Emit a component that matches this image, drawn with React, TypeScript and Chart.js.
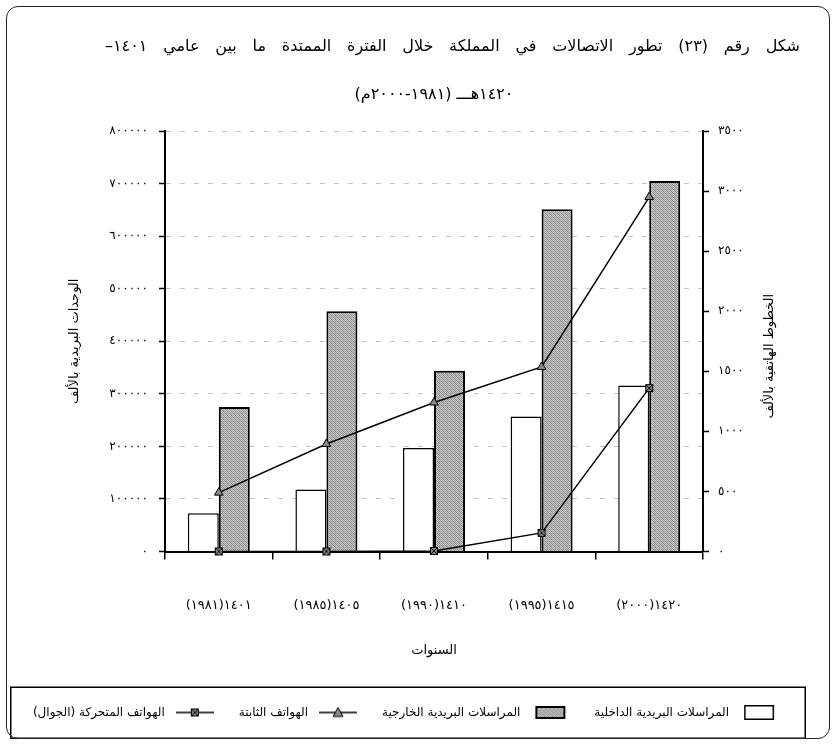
import React, { useEffect, useRef } from 'react';
import { Chart, registerables } from 'chart.js';

Chart.register(...registerables);

// ---------- data ----------
const categories = ['١٤٠١(١٩٨١)', '١٤٠٥(١٩٨٥)', '١٤١٠(١٩٩٠)', '١٤١٥(١٩٩٥)', '١٤٢٠(٢٠٠٠)'];
const domesticMail = [73000, 118000, 197000, 257000, 316000];
const foreignMail = [275000, 457000, 344000, 651000, 705000];
const fixedLines = [490, 895, 1240, 1536, 2950];
const mobilePhones = [0, 0, 5, 155, 1360];

const seriesNames = [
  'المراسلات البريدية الداخلية',
  'المراسلات البريدية الخارجية',
  'الهواتف الثابتة',
  'الهواتف المتحركة (الجوال)',
];
const titleLines = [
  'شكل رقم (٢٣) تطور الاتصالات في المملكة خلال الفترة الممتدة ما بين عامي ١٤٠١–',
  '١٤٢٠هـــ (١٩٨١-٢٠٠٠م)',
];
const leftAxisTitle = 'الوحدات البريدية بالألف';
const rightAxisTitle = 'الخطوط الهاتفية بالألف';
const xAxisTitle = 'السنوات';

const leftMax = 800000;
const leftStep = 100000;
const rightMax = 3500;
const rightStep = 500;

const FONT = '"DejaVu Sans", sans-serif';
const arabicDigits = '٠١٢٣٤٥٦٧٨٩';
const toArabic = (v: number | string) => String(v).replace(/\d/g, (d) => arabicDigits[Number(d)]);

// ---------- style helpers ----------
function makePatternTile(): HTMLCanvasElement {
  const c = document.createElement('canvas');
  c.width = 4;
  c.height = 4;
  const g = c.getContext('2d')!;
  const shades = [
    '#8c8c8c', '#d2d2d2', '#a0a0a0', '#c6c6c6',
    '#cacaca', '#7a7a7a', '#bcbcbc', '#989898',
    '#a6a6a6', '#d6d6d6', '#868686', '#c0c0c0',
    '#c4c4c4', '#929292', '#d0d0d0', '#7e7e7e',
  ];
  for (let i = 0; i < 16; i++) {
    g.fillStyle = shades[i];
    g.fillRect(i % 4, Math.floor(i / 4), 1, 1);
  }
  return c;
}

function makeXSquare(size: number): HTMLCanvasElement {
  const c = document.createElement('canvas');
  c.width = size;
  c.height = size;
  const g = c.getContext('2d')!;
  g.fillStyle = '#8a8a8a';
  g.fillRect(1, 1, size - 2, size - 2);
  g.strokeStyle = '#000';
  g.lineWidth = 1;
  g.strokeRect(1.5, 1.5, size - 3, size - 3);
  g.beginPath();
  g.moveTo(1.5, 1.5);
  g.lineTo(size - 1.5, size - 1.5);
  g.moveTo(size - 1.5, 1.5);
  g.lineTo(1.5, size - 1.5);
  g.stroke();
  return c;
}

function legendBox(fill: string | CanvasPattern, w: number, h: number, bw: number): HTMLCanvasElement {
  const c = document.createElement('canvas');
  c.width = w + 4;
  c.height = h + 2;
  const g = c.getContext('2d')!;
  g.fillStyle = fill as any;
  g.fillRect(2, 1, w, h);
  g.strokeStyle = '#000';
  g.lineWidth = bw;
  g.strokeRect(2 + bw / 2, 1 + bw / 2, w - bw, h - bw);
  return c;
}

function legendLine(marker: 'triangle' | 'xsquare'): HTMLCanvasElement {
  const w = 38;
  const h = 12;
  const c = document.createElement('canvas');
  c.width = w;
  c.height = h;
  const g = c.getContext('2d')!;
  g.strokeStyle = '#000';
  g.lineWidth = 1.5;
  g.beginPath();
  g.moveTo(0, h / 2);
  g.lineTo(w, h / 2);
  g.stroke();
  if (marker === 'triangle') {
    g.fillStyle = '#8a8a8a';
    g.beginPath();
    g.moveTo(w / 2, 1);
    g.lineTo(w / 2 + 5, h - 2);
    g.lineTo(w / 2 - 5, h - 2);
    g.closePath();
    g.fill();
    g.lineWidth = 1;
    g.stroke();
  } else {
    const s = makeXSquare(10);
    g.drawImage(s, w / 2 - 5, h / 2 - 5);
  }
  return c;
}

export default function App() {
  const ref = useRef<HTMLCanvasElement>(null);

  useEffect(() => {
    document.body.style.margin = '0';
    const canvas = ref.current!;
    const ctx = canvas.getContext('2d')!;
    const pattern = ctx.createPattern(makePatternTile(), 'repeat')!;
    const xSquare = makeXSquare(10);

    const legendImages = [
      legendBox('#ffffff', 30, 15, 1.5),
      legendBox(pattern, 30, 13, 2),
      legendLine('triangle'),
      legendLine('xsquare'),
    ];

    const framePlugin = {
      id: 'framesAndTitles',
      afterDraw(chart: any) {
        const c = chart.ctx;
        const l = chart.legend;
        const ca = chart.chartArea;
        c.save();
        c.strokeStyle = '#000';
        c.lineWidth = 1.5;
        c.strokeRect(l.left + 0.75, l.top + 0.75, l.width - 1.5, chart.height - 5 - l.top - 1.5);

        // chart title: first line justified (as in the source document), second centred
        c.font = `16px ${FONT}`;
        c.fillStyle = '#000';
        c.textBaseline = 'middle';
        const words = titleLines[0].split(' ');
        const widths = words.map((w) => c.measureText(w).width);
        const sum = widths.reduce((a, b) => a + b, 0);
        const right = ca.right + 97;
        const left = ca.left - 60;
        const gap = (right - left - sum) / (words.length - 1);
        let x = right;
        c.textAlign = 'right';
        words.forEach((w, i) => {
          c.fillText(w, x, ca.top - 84);
          x -= widths[i] + gap;
        });
        c.textAlign = 'center';
        c.fillText(titleLines[1], (ca.left + ca.right) / 2, ca.top - 36);

        // right axis title (reads top to bottom like the left one)
        const s = chart.scales.y1;
        c.translate(s.right - 36, (s.top + s.bottom) / 2 + 15);
        c.rotate(-Math.PI / 2);
        c.font = `13px ${FONT}`;
        c.textAlign = 'center';
        c.fillText(rightAxisTitle, 0, 0);
        c.restore();
      },
    };

    const chart = new Chart(canvas, {
      type: 'bar',
      data: {
        labels: categories,
        datasets: [
          {
            type: 'bar',
            label: seriesNames[0],
            data: domesticMail,
            yAxisID: 'y',
            backgroundColor: '#ffffff',
            borderColor: '#000',
            borderWidth: 1.5,
            barPercentage: 1,
            categoryPercentage: 0.576,
            order: 2,
          },
          {
            type: 'bar',
            label: seriesNames[1],
            data: foreignMail,
            yAxisID: 'y',
            backgroundColor: pattern as any,
            borderColor: '#000',
            borderWidth: 2,
            barPercentage: 1,
            categoryPercentage: 0.576,
            order: 2,
          },
          {
            type: 'line',
            label: seriesNames[2],
            data: fixedLines,
            yAxisID: 'y1',
            borderColor: '#000',
            borderWidth: 1.5,
            backgroundColor: '#8a8a8a',
            pointStyle: 'triangle',
            pointRadius: 5,
            pointBorderWidth: 1,
            pointBorderColor: '#000',
            pointBackgroundColor: '#8a8a8a',
            tension: 0,
            clip: false as any,
            order: 1,
          },
          {
            type: 'line',
            label: seriesNames[3],
            data: mobilePhones,
            yAxisID: 'y1',
            borderColor: '#000',
            borderWidth: 1.5,
            backgroundColor: '#8a8a8a',
            pointStyle: xSquare as any,
            pointRadius: 5,
            tension: 0,
            clip: false as any,
            order: 1,
          },
        ] as any,
      },
      options: {
        responsive: false,
        animation: false,
        devicePixelRatio: 1,
        layout: { padding: { left: 10, right: 30, top: 131, bottom: 15.5 } },
        font: { family: FONT } as any,
        plugins: {
          tooltip: { enabled: false },
          title: { display: false },
          legend: {
            display: true,
            position: 'bottom',
            rtl: true,
            textDirection: 'rtl',
            labels: {
              usePointStyle: true,
              pointStyleWidth: 48,
              padding: 20,
              color: '#000',
              font: { family: FONT, size: 12 },
              generateLabels: () =>
                seriesNames.map((name, i) => ({
                  text: name,
                  pointStyle: legendImages[i] as any,
                  fillStyle: '#fff',
                  strokeStyle: '#000',
                  lineWidth: 0,
                  hidden: false,
                  datasetIndex: i,
                  fontColor: '#000',
                })),
            },
          },
        },
        scales: {
          x: {
            offset: true,
            grid: {
              display: true,
              drawOnChartArea: false,
              offset: true,
              tickLength: 8,
              tickColor: '#000',
              lineWidth: 1.5,
              color: '#000',
            },
            border: { display: true, color: '#000', width: 2 },
            ticks: {
              padding: 38,
              color: '#000',
              font: { family: FONT, size: 13 },
              maxRotation: 0,
              autoSkip: false,
            },
            title: {
              display: true,
              text: xAxisTitle,
              color: '#000',
              font: { family: FONT, size: 13 },
              padding: { top: 0, bottom: 28 },
            },
            afterFit: (s: any) => {
              s.height = 135;
            },
          },
          y: {
            position: 'left',
            min: 0,
            max: leftMax,
            ticks: {
              stepSize: leftStep,
              padding: 11,
              color: '#000',
              font: { family: FONT, size: 12 },
              callback: (v: any) => toArabic(v),
            },
            grid: {
              color: '#c4c4c4',
              lineWidth: 1,
              tickLength: 6,
              tickColor: '#000',
              tickWidth: 1.5,
              tickBorderDash: [],
            },
            border: { display: true, color: '#000', width: 2, dash: [5, 9] },
            title: {
              display: true,
              text: leftAxisTitle,
              color: '#000',
              font: { family: FONT, size: 13 },
              padding: { top: 57, bottom: 0 },
            },
            afterFit: (s: any) => {
              s.width = 155;
            },
          },
          y1: {
            position: 'right',
            min: 0,
            max: rightMax,
            ticks: {
              stepSize: rightStep,
              padding: 9,
              color: '#000',
              font: { family: FONT, size: 12 },
              callback: (v: any) => toArabic(v),
            },
            grid: {
              drawOnChartArea: false,
              tickLength: 6,
              tickColor: '#000',
              tickWidth: 1.5,
            },
            border: { display: true, color: '#000', width: 2 },
            afterFit: (s: any) => {
              s.width = 103;
            },
          },
        },
      } as any,
      plugins: [framePlugin],
    });

    return () => chart.destroy();
  }, []);

  return (
    <div style={{ position: 'relative', width: 836, height: 744, background: '#fff' }}>
      <canvas
        ref={ref}
        width={836}
        height={744}
        dir="rtl"
        style={{ position: 'absolute', left: 0, top: 0, width: 836, height: 744, direction: 'rtl' }}
      />
      <div
        style={{
          position: 'absolute',
          left: 6,
          top: 6,
          width: 822,
          height: 731,
          border: '1.5px solid #222',
          borderRadius: 12,
          pointerEvents: 'none',
        }}
      />
    </div>
  );
}
